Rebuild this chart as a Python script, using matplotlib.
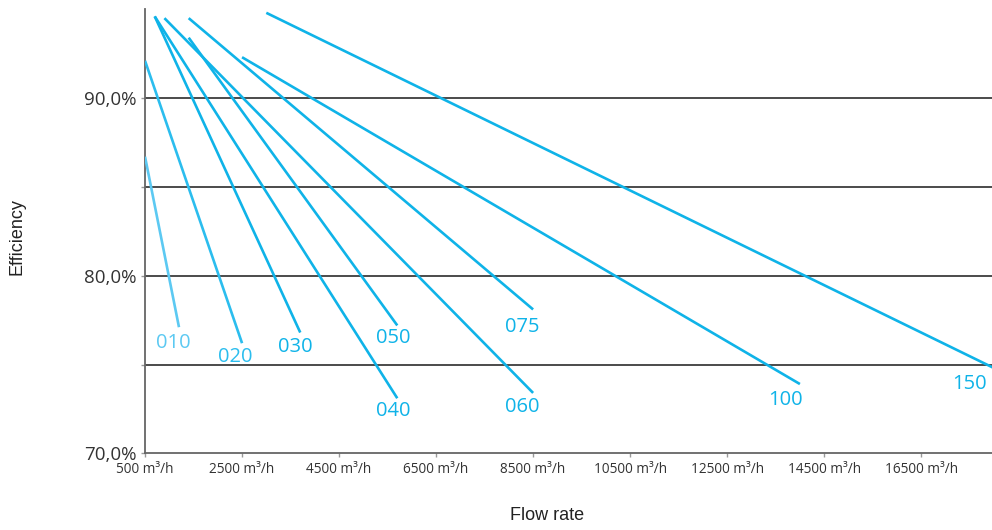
import matplotlib
matplotlib.use("Agg")
import matplotlib.pyplot as plt

# Model names and their efficiency lines (flow m3/h, efficiency %)
models = ["010", "020", "030", "040", "050", "060", "075", "100", "150"]
flow_start = [500, 500, 700, 700, 1400, 900, 1400, 2500, 3000]
flow_end = [1200, 2500, 3700, 5700, 5700, 8500, 8500, 14000, 18000]
eff_start = [86.7, 92.1, 94.6, 94.6, 93.4, 94.5, 94.5, 92.3, 94.8]
eff_end = [77.1, 76.2, 76.8, 73.1, 77.2, 73.4, 78.1, 73.9, 74.8]

# where the model label sits
label_x = [1090, 2360, 3590, 5610, 5610, 8270, 8270, 13700, 17500]
label_y = [76.2, 75.4, 76.0, 72.4, 76.5, 72.6, 77.1, 73.0, 73.9]

x_ticks = [500, 2500, 4500, 6500, 8500, 10500, 12500, 14500, 16500]
y_ticks = [70, 75, 80, 85, 90]
y_labels = ["70,0%", "", "80,0%", "", "90,0%"]

colors = ["#5cc9f2", "#2bbdee"] + ["#0fb3e8"] * 7

fig = plt.figure(figsize=(9.92, 5.30), dpi=100)
ax = fig.add_axes([0.1462, 0.1447, 0.8538, 0.8378])

for i, m in enumerate(models):
    ax.plot([flow_start[i], flow_end[i]], [eff_start[i], eff_end[i]],
            color=colors[i], lw=1.9, solid_capstyle="butt", zorder=3)
    ax.text(label_x[i], label_y[i], m, color=colors[i], fontsize=14.5,
            family="Open Sans", ha="center", va="center", zorder=4)

ax.set_xlim(500, 17960)
ax.set_ylim(70, 95)

for g in [75, 80, 85, 90]:
    ax.axhline(g, color="#1a1a1a", lw=1.1, zorder=1)

ax.set_xticks(x_ticks)
ax.set_xticklabels([f"{v} m³/h" for v in x_ticks], fontsize=9.8,
                   family="Open Sans", color="#333333")
ax.set_yticks(y_ticks)
ax.set_yticklabels(y_labels, fontsize=13.5, family="Open Sans", color="#333333")
ax.tick_params(axis="both", length=3, width=1, color="#999999", pad=3)

for s in ["top", "right"]:
    ax.spines[s].set_visible(False)
ax.spines["left"].set_color("#666666")
ax.spines["bottom"].set_color("#666666")
ax.spines["left"].set_linewidth(1.3)
ax.spines["bottom"].set_linewidth(1.3)

fig.text(0.551, 0.028, "Flow rate", fontsize=13, family="Liberation Sans",
         color="#222222", ha="center", va="center")
fig.text(0.017, 0.553, "Efficiency", fontsize=13, family="Liberation Sans",
         color="#222222", ha="center", va="center", rotation=90)

fig.savefig("out.png", dpi=100)
